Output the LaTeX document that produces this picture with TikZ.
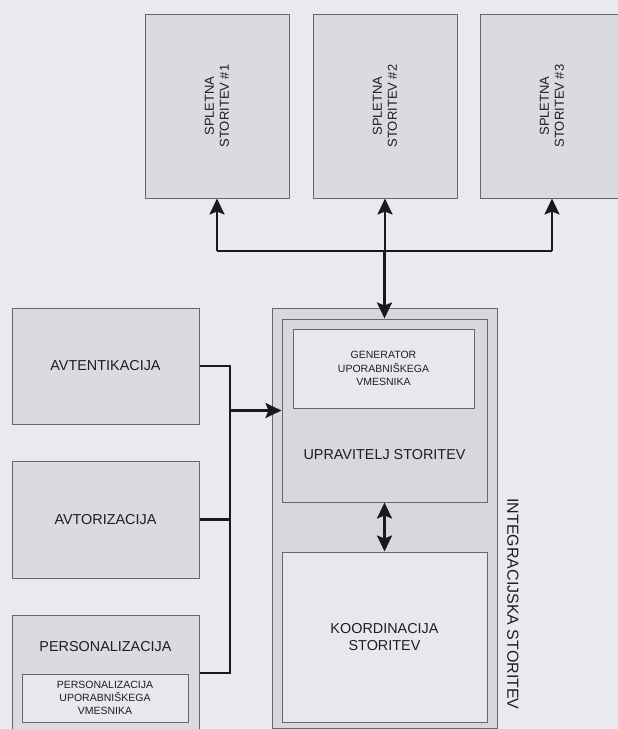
\documentclass[tikz,border=0pt]{standalone}
\usepackage{fontspec}
\setmainfont{Liberation Sans}
\usetikzlibrary{arrows.meta}

\definecolor{paper}{HTML}{E9EAF0}
\definecolor{boxfill}{HTML}{DADBE1}
\definecolor{lightfill}{HTML}{E7E8ED}
\definecolor{framefill}{HTML}{D7D8DD}
\definecolor{edge}{HTML}{66676B}
\definecolor{ink}{HTML}{1E1E1E}

\tikzset{
  blockbox/.style={draw=edge, line width=1pt, fill=boxfill, inner sep=0pt},
  lightbox/.style={blockbox, fill=lightfill},
  bigtext/.style={font=\fontsize{14.4}{17}\selectfont, text=ink, align=center},
  smalltext/.style={font=\fontsize{10.5}{13.3}\selectfont, text=ink, align=center},
  webtext/.style={font=\fontsize{13}{15}\selectfont, text=ink, align=center, rotate=90},
  conn/.style={draw=black!90, line width=2.4pt},
  tip/.tip={Stealth[length=16pt,width=15pt,inset=3pt]},
  arr/.style={conn, -tip},
  darr/.style={conn, tip-tip},
}

\begin{document}
\begin{tikzpicture}[x=1pt, y=-1pt]
  \useasboundingbox (0,0) rectangle (618,729);
  \clip (0,0) rectangle (618,729);
  \fill[paper] (0,0) rectangle (618,729);

  % web services along the top
  \node[blockbox, minimum width=144pt, minimum height=184pt,
        label={[webtext]center:SPLETNA\\STORITEV \#1}] (s1) at (217,106) {};
  \node[blockbox, minimum width=144pt, minimum height=184pt,
        label={[webtext]center:SPLETNA\\STORITEV \#2}] (s2) at (385,106) {};
  \node[blockbox, minimum width=144pt, minimum height=184pt,
        label={[webtext]center:SPLETNA\\STORITEV \#3}] (s3) at (552,106) {};

  % service integration frame
  \node[blockbox, fill=framefill, minimum width=225pt, minimum height=420pt] (integ) at (384.5,518) {};
  \node[font=\fontsize{16}{18}\selectfont, text=ink, rotate=-90] (integtxt) at (513,604) {INTEGRACIJSKA STORITEV};

  \node[blockbox, fill=framefill, minimum width=205pt, minimum height=183pt] (upr) at (384.5,410.5) {};
  \node[lightbox, minimum width=181pt, minimum height=79pt, smalltext] (gen) at (383.5,368.5)
       {GENERATOR\\UPORABNIŠKEGA\\VMESNIKA};
  \node[bigtext] (uprtxt) at (384.5,455) {UPRAVITELJ STORITEV};

  \node[lightbox, minimum width=205pt, minimum height=170pt, bigtext] (koor) at (384.5,637)
       {KOORDINACIJA\\STORITEV};

  % left-hand services
  \node[blockbox, minimum width=187pt, minimum height=116pt, bigtext] (avt) at (105.5,366) {AVTENTIKACIJA};
  \node[blockbox, minimum width=187pt, minimum height=117pt, bigtext] (avr) at (105.5,519.5) {AVTORIZACIJA};
  \node[blockbox, minimum width=187pt, minimum height=116pt] (per) at (105.5,673) {};
  \node[bigtext] (pertxt) at (105.5,647) {PERSONALIZACIJA};
  \node[lightbox, minimum width=166pt, minimum height=48pt, smalltext] (pergen) at (105,698)
       {PERSONALIZACIJA\\UPORABNIŠKEGA\\VMESNIKA};

  % connectors
  \coordinate (bus) at (384.5,251);
  \coordinate (jx) at (230,0);

  \draw[conn] (bus -| s1.south) -- (bus -| s3.south);
  \draw[arr] (bus -| s1.south) -- (s1.south);
  \draw[arr] (bus -| s2.south) -- (s2.south);
  \draw[arr] (bus -| s3.south) -- (s3.south);
  \draw[arr] (bus) -- (upr.north);

  \draw[conn] (avt.east) -- (avt.east -| jx) -- (per.east -| jx) -- (per.east);
  \draw[conn] (avr.east) -- (avr.east -| jx);
  \draw[arr] (upr.west -| jx) -- (upr.west);

  \draw[darr] (upr.south) -- (koor.north);
\end{tikzpicture}
\end{document}
